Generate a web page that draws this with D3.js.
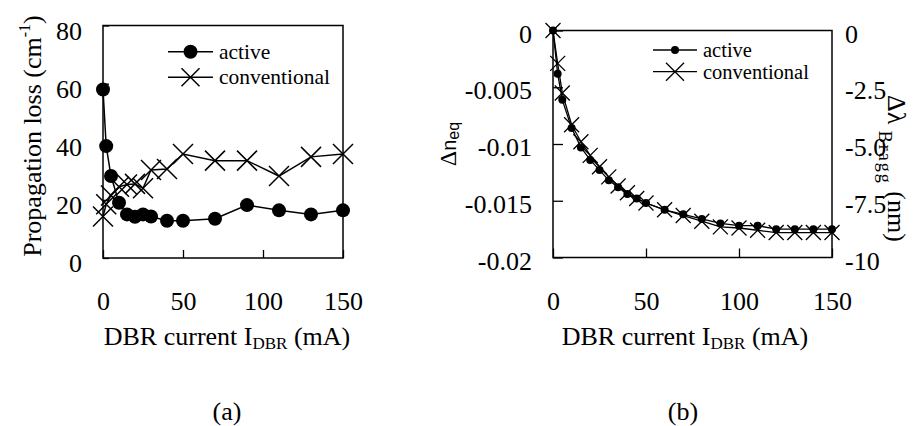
<!DOCTYPE html>
<html>
<head>
<meta charset="utf-8">
<script src="https://cdn.jsdelivr.net/npm/d3@7"></script>
<style>
    body { margin: 0; background: #fff; }
    svg { display: block; font-family: "Liberation Serif", "Times New Roman", serif; }
    .axis path { display: none; }
    .axis line { stroke: #000; stroke-width: 1.3; }
    .axis text { fill: #000; font-family: "Liberation Serif", serif; font-size: 26px; }
</style>
</head>
<body>
<div id="chart"></div>
<script>
// ---- data ----

// (a) propagation loss vs DBR current
const lossCurrent = [0, 2, 5, 10, 15, 20, 25, 30, 40, 50, 70, 90, 110, 130, 150];
const lossActive = [58.0, 38.5, 28.2, 19.0, 15.0, 14.2, 15.0, 14.3, 12.8, 12.8, 13.5, 18.2, 16.4, 15.0, 16.4];
const lossConventional = [14.3, 18.5, 21.5, 24.5, 25.3, 25.5, 24.0, 30.3, 30.6, 35.8, 33.5, 33.5, 28.2, 34.8, 35.8];

// (b) index / Bragg wavelength shift vs DBR current
const shiftCurrent = [0, 2.5, 5, 10, 15, 20, 25, 30, 35, 40, 45, 50, 60, 70, 80, 90, 100, 110, 120, 130, 140, 150];
const shiftActive = [0, -0.0038, -0.0061, -0.0086, -0.0103, -0.0114, -0.0123, -0.0132, -0.0138, -0.0144, -0.0148,
    -0.0152, -0.0158, -0.0162, -0.0166, -0.0170, -0.0172, -0.0172, -0.0175, -0.0175, -0.0175, -0.0175];
const shiftConventional = [0, -0.0029, -0.0055, -0.0083, -0.0098, -0.0110, -0.0120, -0.0129, -0.0137, -0.0143, -0.0148,
    -0.0152, -0.0158, -0.0163, -0.0168, -0.0173, -0.0174, -0.0176, -0.0178, -0.0178, -0.0178, -0.0178];

const xTicks = [0, 50, 100, 150];
const lossTicks = [0, 20, 40, 60, 80];
const neqTicks = [0, -0.005, -0.01, -0.015, -0.02];
const braggTicks = [0, -2.5, -5, -7.5, -10];
const braggLabels = ["0", "-2.5", "-5.0", "-7.5", "-10"];
const seriesNames = ["active", "conventional"];

const svg = d3.select("#chart").append("svg")
    .attr("width", 922)
    .attr("height", 426);

// draw a cross marker centred at (cx, cy)
function cross(g, cx, cy, h, w) {
    g.append("path")
        .attr("d", `M${cx - h},${cy - h}L${cx + h},${cy + h}M${cx - h},${cy + h}L${cx + h},${cy - h}`)
        .attr("stroke", "#000")
        .attr("stroke-width", w)
        .attr("fill", "none");
}

function drawSeries(g, x, y, xs, ys, marker, opts) {
    const pts = xs.map((d, i) => [x(d), y(ys[i])]);
    g.append("path")
        .attr("d", d3.line()(pts))
        .attr("fill", "none")
        .attr("stroke", "#000")
        .attr("stroke-width", opts.lw);
    pts.forEach(p => {
        if (marker === "dot") {
            g.append("circle").attr("cx", p[0]).attr("cy", p[1]).attr("r", opts.r).attr("fill", "#000");
        } else {
            cross(g, p[0], p[1], opts.h, opts.lw);
        }
    });
}

function drawLegend(g, x0, x1, y0, y1, tx, opts) {
    [y0, y1].forEach((yy, i) => {
        g.append("line").attr("x1", x0).attr("x2", x1).attr("y1", yy).attr("y2", yy)
            .attr("stroke", "#000").attr("stroke-width", opts.lw);
        if (i === 0) {
            g.append("circle").attr("cx", (x0 + x1) / 2).attr("cy", yy).attr("r", opts.r).attr("fill", "#000");
        } else {
            cross(g, (x0 + x1) / 2, yy, opts.h, opts.lw);
        }
        g.append("text")
            .attr("x", tx).attr("y", yy + 7)
            .style("font-size", opts.fs + "px")
            .text(seriesNames[i]);
    });
}

function xTitle(cx) {
    const t = svg.append("text")
        .attr("x", cx).attr("y", 345)
        .attr("text-anchor", "middle")
        .style("font-size", "26px");
    t.append("tspan").text("DBR current I");
    t.append("tspan").attr("dy", 4).style("font-size", "17px").text("DBR");
    t.append("tspan").attr("dy", -4).text(" (mA)");
}

// ---------- panel (a) ----------
const xa = d3.scaleLinear().domain([0, 150]).range([103, 343]);
const ya = d3.scaleLinear().domain([0, 80]).range([258, 25.5]);
const ga = svg.append("g");

ga.append("g").attr("class", "axis")
    .attr("transform", "translate(0,258)")
    .call(d3.axisBottom(xa).tickValues(xTicks).tickSizeInner(-8).tickSizeOuter(0).tickPadding(34));
ga.append("g").attr("class", "axis")
    .attr("transform", "translate(103,0)")
    .call(d3.axisLeft(ya).tickValues(lossTicks).tickSizeInner(-6).tickSizeOuter(0).tickPadding(21))
    .selectAll("text").attr("dy", "0.52em");

ga.append("rect")
    .attr("x", xa(0)).attr("y", ya(80))
    .attr("width", xa(150) - xa(0)).attr("height", ya(0) - ya(80))
    .attr("fill", "none").attr("stroke", "#000").attr("stroke-width", 1.5);

drawSeries(ga, xa, ya, lossCurrent, lossConventional, "cross", { lw: 1.5, h: 10 });
drawSeries(ga, xa, ya, lossCurrent, lossActive, "dot", { lw: 1.5, r: 7 });
drawLegend(ga, 168, 213, 51.7, 77.3, 219, { lw: 1.5, r: 7, h: 9, fs: 21.5 });

const ta = ga.append("text")
    .attr("transform", "translate(41,136) rotate(-90)")
    .attr("text-anchor", "middle")
    .style("font-size", "26px");
ta.append("tspan").text("Propagation loss (cm");
ta.append("tspan").attr("dy", -11).style("font-size", "16px").text("-1");
ta.append("tspan").attr("dy", 11).text(")");

xTitle(227);
svg.append("text").attr("x", 227).attr("y", 420).attr("text-anchor", "middle")
    .style("font-size", "26px").text("(a)");

// ---------- panel (b) ----------
const xb = d3.scaleLinear().domain([0, 150]).range([553, 832]);
const yb = d3.scaleLinear().domain([-0.02, 0]).range([257.5, 30.5]);
const yr = d3.scaleLinear().domain([-10, 0]).range([257.5, 30.5]);
const gb = svg.append("g");

gb.append("g").attr("class", "axis")
    .attr("transform", "translate(0,257.5)")
    .call(d3.axisBottom(xb).tickValues(xTicks).tickSizeInner(-9).tickSizeOuter(0).tickPadding(34));
gb.append("g").attr("class", "axis")
    .attr("transform", "translate(553,0)")
    .call(d3.axisLeft(yb).tickValues(neqTicks).tickFormat(d => d === 0 ? "0" : String(d))
        .tickSizeInner(-10).tickSizeOuter(0).tickPadding(21))
    .selectAll("text").attr("dy", "0.45em");
gb.append("g").attr("class", "axis")
    .attr("transform", "translate(832,0)")
    .call(d3.axisRight(yr).tickValues(braggTicks).tickFormat((d, i) => braggLabels[i])
        .tickSizeInner(0).tickSizeOuter(0).tickPadding(13))
    .selectAll("text").attr("dy", "0.45em");

gb.append("rect")
    .attr("x", xb(0)).attr("y", yb(0))
    .attr("width", xb(150) - xb(0)).attr("height", yb(-0.02) - yb(0))
    .attr("fill", "none").attr("stroke", "#000").attr("stroke-width", 1.5);

drawSeries(gb, xb, yb, shiftCurrent, shiftConventional, "cross", { lw: 1.3, h: 7.5 });
drawSeries(gb, xb, yb, shiftCurrent, shiftActive, "dot", { lw: 1.3, r: 4 });
drawLegend(gb, 653, 697, 50, 71.7, 703, { lw: 1.3, r: 4, h: 9, fs: 20.5 });

// left title: Δn_eq
const tl = gb.append("text")
    .attr("transform", "translate(456,144) rotate(-90)")
    .attr("text-anchor", "middle")
    .style("font-size", "24px");
tl.append("tspan").text("Δ");
tl.append("tspan").style("font-family", "Liberation Sans, Arial, sans-serif").style("font-size", "20px").text("n");
tl.append("tspan").attr("dy", 3).style("font-family", "Liberation Sans, Arial, sans-serif").style("font-size", "16px").text("eq");

// right title: Δλ_Bragg (nm)
const tr = gb.append("text")
    .attr("transform", "translate(888,95) rotate(90)")
    .style("font-size", "26px");
tr.append("tspan").text("Δλ");
tr.append("tspan").attr("dy", 9).style("font-size", "18px").style("letter-spacing", "2px").text(" Bragg");
tr.append("tspan").attr("dy", -9).text(" (nm)");

xTitle(685);
svg.append("text").attr("x", 683).attr("y", 420).attr("text-anchor", "middle")
    .style("font-size", "26px").text("(b)");
</script>
</body>
</html>
